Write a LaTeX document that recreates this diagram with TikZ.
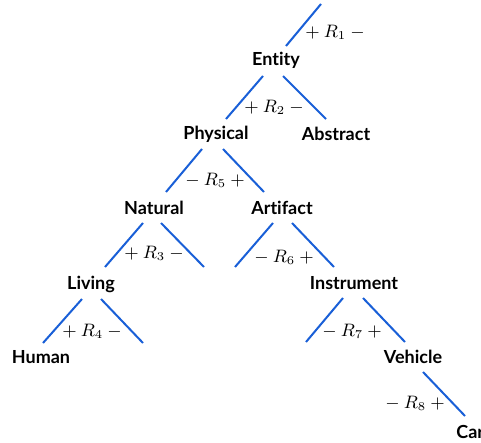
\documentclass[tikz,border=0pt]{standalone}
\usepackage{fontspec}
\setmainfont{Lato}[Ligatures=NoCommon]
\usepackage{amsmath}
\usepackage{xcolor}
\definecolor{branchblue}{RGB}{25,95,215}

\begin{document}
\begin{tikzpicture}[
  x=0.5pt, y=-0.5pt,
  concept/.style={font=\fontsize{9}{10}\selectfont\bfseries, inner sep=0pt},
  rel/.style={font=\fontsize{9}{10}\selectfont, inner sep=0pt},
  branch/.style={draw=branchblue, line width=1pt}
]
  \useasboundingbox (0,0) rectangle (481,443);

  % concepts
  \node[concept] (entity)     at (276,60)  {Entity};
  \node[concept] (physical)   at (216,134) {Physical};
  \node[concept] (abstract)   at (336,134) {Abstract};
  \node[concept] (natural)    at (154,208) {Natural};
  \node[concept] (artifact)   at (282,208) {Artifact};
  \node[concept] (living)     at (91,284)  {Living};
  \node[concept] (instrument) at (354,283) {Instrument};
  \node[concept] (human)      at (41,357)  {Human};
  \node[concept] (vehicle)    at (413,357) {Vehicle};
  \node[concept, anchor=west] (car) at (456,432) {Car};

  % free ends
  \coordinate (root)           at (321,4);
  \coordinate (natural-end)    at (204,267);
  \coordinate (artifact-end)   at (235,267);
  \coordinate (living-end)     at (143,343);
  \coordinate (instrument-end) at (306,342);

  % branches
  \draw[branch] (root) -- ([shift={(10,-14)}]entity.center);
  \draw[branch] ([shift={(-13,16)}]entity.center) -- ([shift={(10,-15)}]physical.center);
  \draw[branch] ([shift={(7,16)}]entity.center) -- ([shift={(-10,-15)}]abstract.center);
  \draw[branch] ([shift={(-14,15)}]physical.center) -- ([shift={(12,-16)}]natural.center);
  \draw[branch] ([shift={(7,15)}]physical.center) -- ([shift={(-18,-16)}]artifact.center);
  \draw[branch] ([shift={(-11,15)}]natural.center) -- ([shift={(14,-17)}]living.center);
  \draw[branch] ([shift={(7,15)}]natural.center) -- (natural-end);
  \draw[branch] ([shift={(-9,15)}]artifact.center) -- (artifact-end);
  \draw[branch] ([shift={(10,15)}]artifact.center) -- ([shift={(-20,-16)}]instrument.center);
  \draw[branch] ([shift={(-9,15)}]living.center) -- ([shift={(2,-14)}]human.center);
  \draw[branch] ([shift={(10,15)}]living.center) -- (living-end);
  \draw[branch] ([shift={(-11,15)}]instrument.center) -- (instrument-end);
  \draw[branch] ([shift={(9,15)}]instrument.center) -- ([shift={(-8,-15)}]vehicle.center);
  \draw[branch] ([shift={(10,15)}]vehicle.center) -- ([shift={(9,-16)}]car.west);

  % relation labels
  \node[rel] (r1) at (335,32)  {$+\:R_1\:-$};
  \node[rel] (r2) at (274,107) {$+\:R_2\:-$};
  \node[rel] (r5) at (215,180) {$-\:R_5\:+$};
  \node[rel] (r3) at (154,253) {$+\:R_3\:-$};
  \node[rel] (r6) at (284,257) {$-\:R_6\:+$};
  \node[rel] (r4) at (92,331)  {$+\:R_4\:-$};
  \node[rel] (r7) at (352,331) {$-\:R_7\:+$};
  \node[rel] (r8) at (415,403) {$-\:R_8\:+$};
\end{tikzpicture}
\end{document}
